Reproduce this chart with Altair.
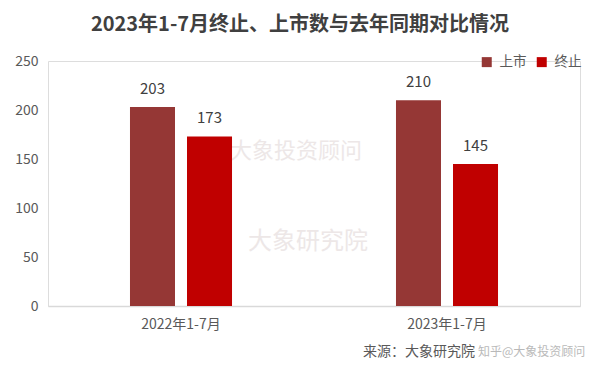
import altair as alt
import pandas as pd

categories = ["2022年1-7月", "2023年1-7月"]
series = ["上市", "终止"]
listed = [203, 210]
terminated = [173, 145]
colors = ["#953735", "#C00000"]
y_ticks = [0, 50, 100, 150, 200, 250]

rows = []
for c, a, b in zip(categories, listed, terminated):
    rows.append({"cat": c, "ser": "上市", "val": a})
    rows.append({"cat": c, "ser": "终止", "val": b})
df = pd.DataFrame(rows)

FONT = "Noto Sans CJK SC"
W, H = 532, 245

x = alt.X("cat:N", sort=categories, title=None,
          scale=alt.Scale(paddingInner=0.5714, paddingOuter=0.2857),
          axis=alt.Axis(labelAngle=0, labelFontSize=14, labelColor="#595959",
                        labelFont=FONT, ticks=False, domainColor="#d9d9d9",
                        domainWidth=1.5, labelPadding=11))
xo = alt.XOffset("ser:N", sort=series,
                 scale=alt.Scale(paddingInner=0.2105, paddingOuter=0.105))
y = alt.Y("val:Q", title=None,
          scale=alt.Scale(domain=[0, 250], nice=False),
          axis=alt.Axis(values=y_ticks, grid=False, domain=False, ticks=False,
                        labelFontSize=14, labelColor="#595959", labelFont=FONT,
                        labelPadding=10))

base = alt.Chart(df)

bars = base.mark_bar().encode(
    x=x, xOffset=xo, y=y,
    color=alt.Color("ser:N", sort=series,
                    scale=alt.Scale(domain=series, range=colors),
                    legend=alt.Legend(title=None, orient="none", direction="horizontal",
                                      legendX=432, legendY=-6, symbolType="square",
                                      symbolSize=100, labelFontSize=13.5,
                                      labelOffset=6,
                                      labelColor="#595959", labelFont=FONT,
                                      columnPadding=8, symbolStrokeWidth=0)),
)

labels = base.mark_text(baseline="bottom", dy=-10, fontSize=15, color="#404040",
                        font=FONT).encode(
    x=x, xOffset=xo, y=y, text="val:Q")

def txt(s, xv, yv, size, color, weight="normal", align="center", opacity=1.0):
    return alt.Chart(pd.DataFrame({"t": [s]})).mark_text(
        fontSize=size, color=color, font=FONT, fontWeight=weight, align=align,
        baseline="middle", opacity=opacity).encode(
        x=alt.value(xv), y=alt.value(yv), text="t:N")

title = txt("2023年1-7月终止、上市数与去年同期对比情况", 252, -36, 20, "#404040", "bold")
wm1 = txt("大象投资顾问", 248, 90, 22, "#e2d8d8", opacity=0.6)
wm2 = txt("大象研究院", 260, 181, 24, "#e2d8d8", opacity=0.6)
source = txt("来源：大象研究院", 315, 291, 14, "#595959", align="left")
source2 = txt("知乎@大象投资顾问", 430, 291, 12, "#8c8c8c", align="left", opacity=0.6)

chart = alt.layer(wm1, wm2, bars, labels, title, source, source2).properties(
    width=W, height=H,
    autosize=alt.AutoSizeParams(type="none"),
    padding={"left": 40, "top": 53, "right": 12, "bottom": 71},
).configure_view(stroke=None).configure(background="white")

chart.save("out.html", embed_options={"renderer": "svg", "actions": False})
